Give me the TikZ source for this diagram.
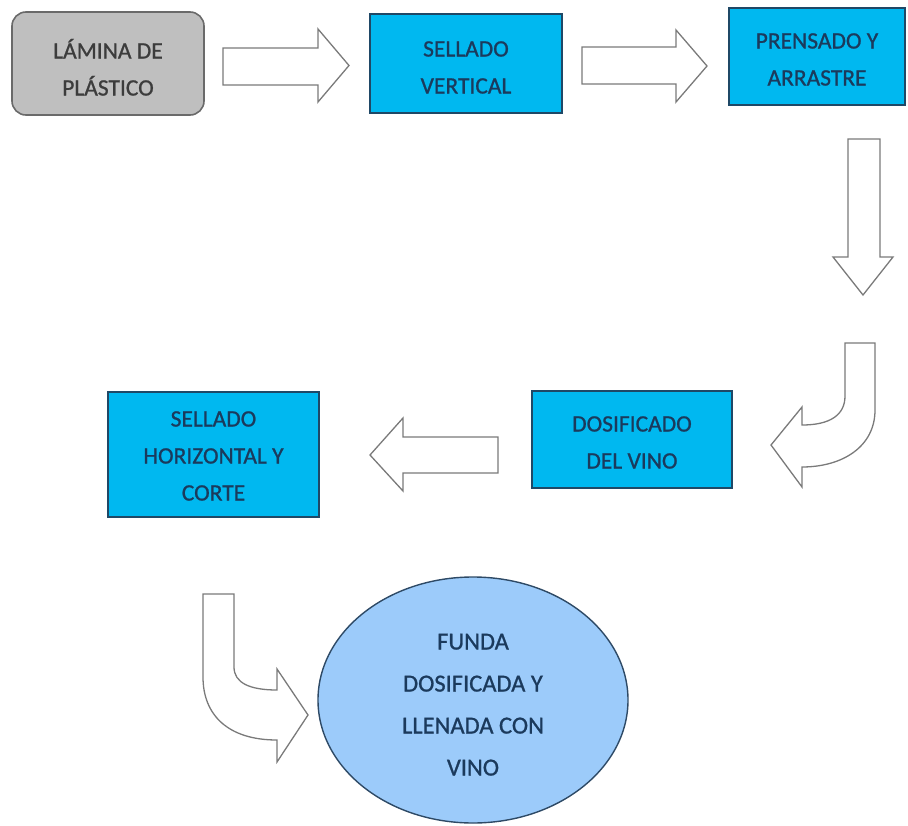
\documentclass[tikz,border=0pt]{standalone}
\usepackage{fontspec}
\setmainfont{Carlito}[FakeBold=0.9]
\newfontfamily\labelfont{Carlito}[FakeBold=0.9]
\usetikzlibrary{shapes.geometric}

\definecolor{procfill}{HTML}{00B8F0}
\definecolor{procline}{HTML}{1F4866}
\definecolor{proctext}{HTML}{1B3A5C}
\definecolor{startfill}{HTML}{BFBFBF}
\definecolor{startline}{HTML}{6A6A6A}
\definecolor{starttext}{HTML}{3C3C3C}
\definecolor{endfill}{HTML}{9CCBFA}
\definecolor{endline}{HTML}{2E4A66}
\definecolor{arrowline}{HTML}{7A7A7A}

% struts that set where a multi-line label sits inside its shape
\newcommand\toppad[1]{\rule{0pt}{#1}}
\newcommand\botpad[1]{\rule[-#1]{0pt}{0pt}}

\tikzset{
  boxtext/.style={align=center, inner sep=0pt,
    font=\labelfont\fontsize{23.5}{37}\selectfont},
  procbox/.style={boxtext, rectangle, draw=procline, line width=1.6pt,
    fill=procfill, text=proctext},
  startbox/.style={boxtext, rectangle, rounded corners=14pt, draw=startline,
    line width=1.6pt, fill=startfill, text=starttext},
  endoval/.style={ellipse, align=center, inner sep=0pt, draw=endline,
    line width=1.4pt, fill=endfill, text=proctext,
    font=\labelfont\fontsize{24.5}{42}\selectfont},
  blockarrow/.style={draw=arrowline, fill=white, line width=1.3pt,
    line join=miter}
}

\begin{document}
\begin{tikzpicture}[x=1pt, y=-1pt]
\useasboundingbox (0,0) rectangle (908,825);

% process steps
\node[startbox, minimum width=192pt, minimum height=103pt] (lamina)
  at (108,63.5) {\toppad{28pt}LÁMINA DE\\PLÁSTICO\botpad{1pt}};
\node[procbox, minimum width=192pt, minimum height=99pt] (sellv)
  at (466,63.5) {\toppad{25pt}SELLADO\\VERTICAL\botpad{2pt}};
\node[procbox, minimum width=176pt, minimum height=97pt] (prens)
  at (817,56.5) {\toppad{24pt}PRENSADO Y\\ARRASTRE\botpad{3pt}};
\node[procbox, minimum width=200pt, minimum height=97pt] (dosif)
  at (632,439.5) {\toppad{24pt}DOSIFICADO\\DEL VINO\botpad{3pt}};
\node[procbox, minimum width=211pt, minimum height=125pt] (sellh)
  at (213.5,454.5) {\toppad{22pt}SELLADO\\HORIZONTAL Y\\CORTE\botpad{4pt}};
\node[endoval, minimum width=310pt, minimum height=246pt] (funda)
  at (473,700) {\toppad{27pt}FUNDA\\DOSIFICADA Y\\LLENADA CON\\VINO\botpad{2pt}};

% block arrows between the steps
\draw[blockarrow] (223,48) -- (318,48) -- (318,29) -- (349,65.5)
  -- (318,102) -- (318,85) -- (223,85) -- cycle;
\draw[blockarrow] (582,47) -- (676,47) -- (676,30) -- (707,66)
  -- (676,102) -- (676,84) -- (582,84) -- cycle;
\draw[blockarrow] (848,139) -- (880,139) -- (880,257) -- (893,257)
  -- (863,295) -- (833,257) -- (848,257) -- cycle;
\draw[blockarrow] (845,343) -- (875,343) -- (875,410)
  .. controls (875,447) and (842,467) .. (802,467) -- (802,487)
  -- (771,445) -- (802,407) -- (802,425)
  .. controls (830,425) and (845,415) .. (845,396) -- cycle;
\draw[blockarrow] (498,437) -- (403,437) -- (403,418) -- (370,455)
  -- (403,491) -- (403,473) -- (498,473) -- cycle;
\draw[blockarrow] (203,594) -- (234,594) -- (234,667)
  .. controls (234,683) and (250,690) .. (277,690) -- (277,669)
  -- (308,715) -- (277,762) -- (277,740)
  .. controls (228,740) and (203,715) .. (203,677) -- cycle;
\end{tikzpicture}
\end{document}
